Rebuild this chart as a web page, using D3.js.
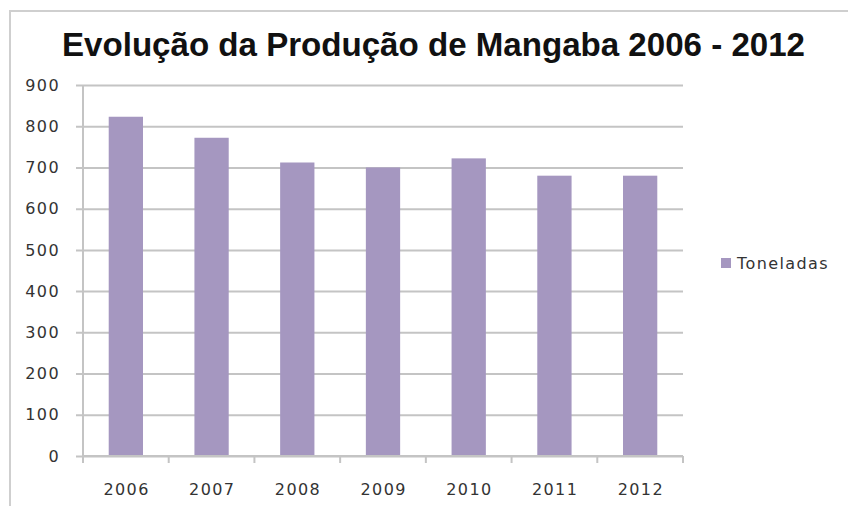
<!DOCTYPE html>
<html>
  <head>
    <meta charset="utf-8">
    <script src="https://d3js.org/d3.v7.min.js"></script>
    <style>
      body { margin: 0; background: #ffffff; }
    </style>
  </head>
  <body>
    <svg id="chart"></svg>
    <script>
      // ---------------------------
      // Data
      // ---------------------------
      var years = ["2006", "2007", "2008", "2009", "2010", "2011", "2012"];
      var toneladas = [823, 772, 712, 700, 722, 680, 680];
      var yTicks = [0, 100, 200, 300, 400, 500, 600, 700, 800, 900];
      var seriesName = "Toneladas";
      var chartTitle = "Evolução da Produção de Mangaba 2006 - 2012";

      // ---------------------------
      // CONSTANTS
      // ---------------------------
      var canvasWidth = 848;
      var canvasHeight = 506;
      var plotLeft = 83, plotRight = 683, plotTop = 85, plotBottom = 456;
      var barColour = "#a597c0";
      var gridColour = "#c4c4c4";
      var labelFont = "'DejaVu Sans', sans-serif";
      var labelSize = 16;
      var labelSpacing = 1.4;

      var svg = d3.select("#chart")
        .attr("width", canvasWidth)
        .attr("height", canvasHeight);

      // frame (only top and left edges are visible in the picture)
      svg.append("path")
        .attr("d", "M10," + canvasHeight + "V11H" + canvasWidth)
        .attr("fill", "none")
        .attr("stroke", "#cfcfcf")
        .attr("stroke-width", 2);

      // title
      svg.append("text")
        .attr("x", 62)
        .attr("y", 56)
        .attr("textLength", 743)
        .attr("lengthAdjust", "spacingAndGlyphs")
        .attr("font-family", "'Liberation Sans Narrow', 'Liberation Sans', Arial, sans-serif")
        .attr("font-weight", "bold")
        .attr("font-size", 33)
        .attr("fill", "#111")
        .text(chartTitle);

      // ---------------------------
      // Scales
      // ---------------------------
      var x = d3.scaleBand().domain(years).range([plotLeft, plotRight])
        .paddingInner(0.6).paddingOuter(0.3);
      var y = d3.scaleLinear().domain([0, 900]).range([plotBottom, plotTop]);

      // gridlines + y labels
      var yAxis = svg.append("g")
        .attr("transform", "translate(" + plotLeft + ",0)")
        .call(d3.axisLeft(y).tickValues(yTicks).tickSize(-(plotRight - plotLeft)).tickPadding(23));
      yAxis.select(".domain").remove();
      yAxis.selectAll(".tick line")
        .attr("x1", -7)
        .attr("stroke", gridColour)
        .attr("stroke-width", 2);
      yAxis.selectAll(".tick text")
        .attr("font-family", labelFont)
        .attr("font-size", labelSize)
        .attr("letter-spacing", labelSpacing)
        .attr("fill", "#333");

      // vertical axis line
      svg.append("line")
        .attr("x1", plotLeft).attr("x2", plotLeft)
        .attr("y1", plotTop).attr("y2", plotBottom)
        .attr("stroke", gridColour)
        .attr("stroke-width", 2);

      // bars
      svg.append("g")
        .selectAll("rect")
        .data(toneladas)
        .enter()
        .append("rect")
        .attr("x", function(d, i) { return x(years[i]); })
        .attr("y", function(d) { return y(d); })
        .attr("width", x.bandwidth())
        .attr("height", function(d) { return y(0) - y(d); })
        .style("fill", barColour);

      // x axis: category boundary ticks
      var xAxis = svg.append("g")
        .attr("transform", "translate(0," + plotBottom + ")");
      xAxis.append("line")
        .attr("x1", plotLeft).attr("x2", plotRight)
        .attr("stroke", gridColour).attr("stroke-width", 2);
      xAxis.selectAll("line.sep")
        .data(d3.range(years.length + 1))
        .enter()
        .append("line")
        .attr("class", "sep")
        .attr("x1", function(i) { return plotLeft + i * x.step(); })
        .attr("x2", function(i) { return plotLeft + i * x.step(); })
        .attr("y1", 0).attr("y2", 7)
        .attr("stroke", gridColour).attr("stroke-width", 2);
      xAxis.selectAll("text")
        .data(years)
        .enter()
        .append("text")
        .attr("x", function(d) { return x(d) + x.bandwidth() / 2 + labelSpacing / 2; })
        .attr("y", 39)
        .attr("text-anchor", "middle")
        .attr("font-family", labelFont)
        .attr("font-size", labelSize)
        .attr("letter-spacing", labelSpacing)
        .attr("fill", "#333")
        .text(function(d) { return d; });

      // legend
      var legend = svg.append("g").attr("transform", "translate(721,258)");
      legend.append("rect")
        .attr("width", 10).attr("height", 10)
        .style("fill", barColour);
      legend.append("text")
        .attr("x", 16).attr("y", 11)
        .attr("font-family", labelFont)
        .attr("font-size", labelSize)
        .attr("letter-spacing", labelSpacing)
        .attr("fill", "#333")
        .text(seriesName);
    </script>
  </body>
</html>
